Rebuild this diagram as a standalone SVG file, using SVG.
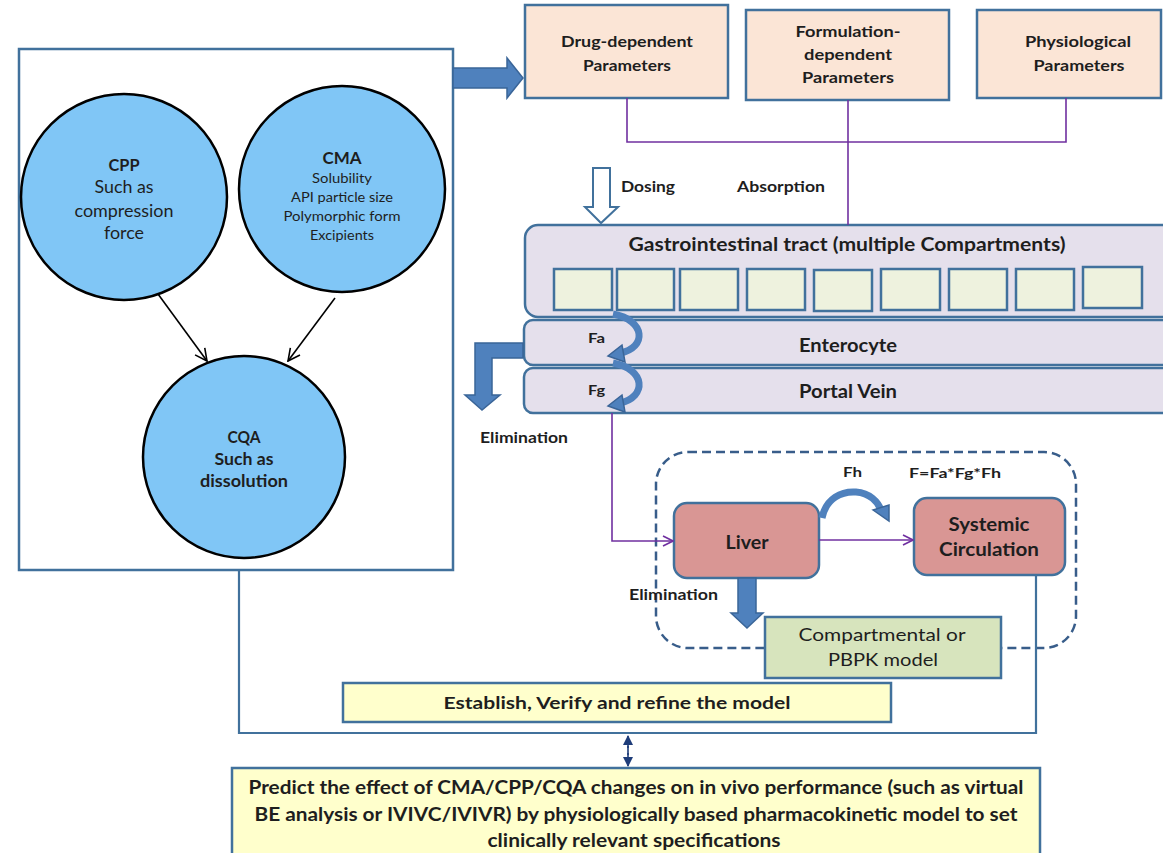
<svg xmlns="http://www.w3.org/2000/svg" width="1163" height="853" viewBox="0 0 1163 853">
<style>
text{font-family:Lato,"Liberation Sans",sans-serif;fill:#1e1e1e;text-anchor:middle}
.b{font-weight:bold}
.l{text-anchor:start}
.circ{fill:#80c6f6;stroke:#000;stroke-width:2.5}
.peach{fill:#fbe5d6;stroke:#41719c;stroke-width:2.5}
.lav{fill:#e5e0ec;stroke:#41719c;stroke-width:2.5}
.cell{fill:#eef2de;stroke:#41719c;stroke-width:2.5}
.red{fill:#d99694;stroke:#41719c;stroke-width:2.5}
.grn{fill:#d7e4bd;stroke:#41719c;stroke-width:2.5}
.yel{fill:#ffffcc;stroke:#41719c;stroke-width:2.5}
.frame{fill:none;stroke:#41719c;stroke-width:2.5}
.pur{fill:none;stroke:#7030a0;stroke-width:1.6}
.blk{fill:none;stroke:#000;stroke-width:1.6}
.nav{fill:none;stroke:#41719c;stroke-width:2.2}
.blue{fill:#4f81bd;stroke:#3a6598;stroke-width:1.5}
.bcurve{fill:none;stroke:#4f81bd;stroke-width:7}
</style>
<defs>
<marker id="mp" viewBox="0 0 12 12" refX="11" refY="6" markerWidth="12" markerHeight="12" markerUnits="userSpaceOnUse" orient="auto"><path d="M1,1 L11,6 L1,11" fill="none" stroke="#7030a0" stroke-width="1.6"/></marker>
<marker id="mb" viewBox="0 0 14 14" refX="13" refY="7" markerWidth="14" markerHeight="14" markerUnits="userSpaceOnUse" orient="auto"><path d="M1,1 L13,7 L1,13" fill="none" stroke="#000" stroke-width="1.6"/></marker>
<marker id="mn" viewBox="0 0 10 10" refX="9" refY="5" markerWidth="10" markerHeight="10" markerUnits="userSpaceOnUse" orient="auto"><path d="M0,0 L10,5 L0,10 Z" fill="#1f3d7a"/></marker>
</defs>
<rect width="1163" height="853" fill="#ffffff"/>

<g id="left-frame"><rect class="frame" x="19" y="49" width="434" height="521"/></g>
<g id="cpp"><circle class="circ" cx="124" cy="197" r="103"/>
<text class="b" x="124" y="171" font-size="17" textLength="31" lengthAdjust="spacingAndGlyphs">CPP</text>
<text x="124" y="193" font-size="17" textLength="59" lengthAdjust="spacingAndGlyphs">Such as</text>
<text x="124" y="217" font-size="17" textLength="99" lengthAdjust="spacingAndGlyphs">compression</text>
<text x="124" y="239" font-size="17" textLength="40" lengthAdjust="spacingAndGlyphs">force</text></g>
<g id="cma"><circle class="circ" cx="342" cy="189" r="103"/>
<text class="b" x="342" y="164" font-size="17" textLength="39" lengthAdjust="spacingAndGlyphs">CMA</text>
<text x="342" y="183" font-size="14" textLength="60" lengthAdjust="spacingAndGlyphs">Solubility</text>
<text x="342" y="202" font-size="14" textLength="102" lengthAdjust="spacingAndGlyphs">API particle size</text>
<text x="342" y="221" font-size="14" textLength="117" lengthAdjust="spacingAndGlyphs">Polymorphic form</text>
<text x="342" y="240" font-size="14" textLength="64" lengthAdjust="spacingAndGlyphs">Excipients</text></g>
<g id="cqa"><circle class="circ" cx="244" cy="457" r="101"/>
<text class="b" x="244" y="443" font-size="17" textLength="33" lengthAdjust="spacingAndGlyphs">CQA</text>
<text class="b" x="244" y="465" font-size="17" textLength="59" lengthAdjust="spacingAndGlyphs">Such as</text>
<text class="b" x="244" y="487" font-size="17" textLength="88" lengthAdjust="spacingAndGlyphs">dissolution</text></g>

<g id="drug"><rect class="peach" x="525" y="5" width="203" height="93"/>
<text class="b" x="627" y="47" font-size="15" textLength="132" lengthAdjust="spacingAndGlyphs">Drug-dependent</text>
<text class="b" x="627" y="71" font-size="15" textLength="88" lengthAdjust="spacingAndGlyphs">Parameters</text></g>
<g id="formulation"><rect class="peach" x="746" y="10" width="203" height="90"/>
<text class="b" x="848" y="37" font-size="15" textLength="105" lengthAdjust="spacingAndGlyphs">Formulation-</text>
<text class="b" x="848" y="60" font-size="15" textLength="88" lengthAdjust="spacingAndGlyphs">dependent</text>
<text class="b" x="848" y="83" font-size="15" textLength="92" lengthAdjust="spacingAndGlyphs">Parameters</text></g>
<g id="physio"><rect class="peach" x="977" y="10" width="184" height="88"/>
<text class="b" x="1078" y="47" font-size="15" textLength="106" lengthAdjust="spacingAndGlyphs">Physiological</text>
<text class="b" x="1079" y="71" font-size="15" textLength="91" lengthAdjust="spacingAndGlyphs">Parameters</text></g>

<g id="gi"><rect class="lav" x="525" y="225" width="650" height="92" rx="13"/>
<text class="b" x="847" y="251" font-size="18" textLength="437" lengthAdjust="spacingAndGlyphs">Gastrointestinal tract (multiple Compartments)</text>
<rect class="cell" x="554" y="269" width="58" height="41"/>
<rect class="cell" x="617" y="269" width="57" height="41"/>
<rect class="cell" x="680" y="269" width="58" height="41"/>
<rect class="cell" x="747" y="269" width="58" height="41"/>
<rect class="cell" x="814" y="270" width="58" height="41"/>
<rect class="cell" x="881" y="269" width="59" height="41"/>
<rect class="cell" x="949" y="269" width="58" height="41"/>
<rect class="cell" x="1016" y="269" width="58" height="41"/>
<rect class="cell" x="1083" y="267" width="59" height="41"/></g>
<g id="enterocyte"><rect class="lav" x="524" y="320" width="650" height="45" rx="9"/>
<text class="b" x="848" y="352" font-size="18" textLength="98" lengthAdjust="spacingAndGlyphs">Enterocyte</text></g>
<g id="portal"><rect class="lav" x="524" y="368" width="650" height="45" rx="9"/>
<text class="b" x="848" y="398" font-size="18" textLength="98" lengthAdjust="spacingAndGlyphs">Portal Vein</text></g>

<g id="model-region"><rect x="656" y="452" width="420" height="196" rx="32" fill="none" stroke="#385d8a" stroke-width="2.5" stroke-dasharray="9 5"/></g>
<g id="liver"><rect class="red" x="674" y="503" width="145" height="75" rx="13"/>
<text class="b" x="747" y="549" font-size="18" textLength="43" lengthAdjust="spacingAndGlyphs">Liver</text></g>
<g id="systemic"><rect class="red" x="914" y="498" width="151" height="77" rx="13"/>
<text class="b" x="989" y="531" font-size="18" textLength="81" lengthAdjust="spacingAndGlyphs">Systemic</text>
<text class="b" x="989" y="556" font-size="18" textLength="100" lengthAdjust="spacingAndGlyphs">Circulation</text></g>
<g id="pbpk"><rect class="grn" x="765" y="617" width="236" height="61"/>
<text x="882" y="641" font-size="18" textLength="167" lengthAdjust="spacingAndGlyphs">Compartmental or</text>
<text x="883" y="666" font-size="18" textLength="110" lengthAdjust="spacingAndGlyphs">PBPK model</text></g>
<g id="establish"><rect class="yel" x="343" y="683" width="548" height="39"/>
<text class="b" x="617" y="709" font-size="17" textLength="347" lengthAdjust="spacingAndGlyphs">Establish, Verify and refine the model</text></g>
<g id="predict"><rect class="yel" x="232" y="768" width="808" height="95"/>
<text class="b" x="636" y="794" font-size="18" textLength="775" lengthAdjust="spacingAndGlyphs">Predict the effect of CMA/CPP/CQA changes on in vivo performance (such as virtual</text>
<text class="b" x="636" y="821" font-size="18" textLength="763" lengthAdjust="spacingAndGlyphs">BE analysis or IVIVC/IVIVR) by physiologically based pharmacokinetic model to set</text>
<text class="b" x="634" y="847" font-size="18" textLength="293" lengthAdjust="spacingAndGlyphs">clinically relevant specifications</text></g>

<g id="labels">
<text class="b l" x="621" y="192" font-size="15" textLength="54" lengthAdjust="spacingAndGlyphs">Dosing</text>
<text class="b l" x="737" y="192" font-size="15" textLength="88" lengthAdjust="spacingAndGlyphs">Absorption</text>
<text class="b l" x="480" y="443" font-size="15" textLength="88" lengthAdjust="spacingAndGlyphs">Elimination</text>
<text class="b l" x="629" y="600" font-size="15" textLength="89" lengthAdjust="spacingAndGlyphs">Elimination</text>
<text class="b l" x="588" y="343" font-size="13" textLength="17" lengthAdjust="spacingAndGlyphs">Fa</text>
<text class="b l" x="588" y="395" font-size="13" textLength="17" lengthAdjust="spacingAndGlyphs">Fg</text>
<text class="b l" x="843" y="477" font-size="14" textLength="19" lengthAdjust="spacingAndGlyphs">Fh</text>
<text class="b l" x="909" y="478" font-size="14" textLength="92" lengthAdjust="spacingAndGlyphs">F=Fa*Fg*Fh</text>
</g>

<g id="connectors">
<polygon class="blue" points="453,68 507,68 507,58 523,78 507,98 507,88 453,88"/>
<path class="blk" d="M158,294 L207,361" marker-end="url(#mb)"/>
<path class="blk" d="M335,298 L288,361" marker-end="url(#mb)"/>
<path class="pur" d="M627,98 V142 H1066 V98"/>
<path class="pur" d="M848,100 V225"/>
<polygon points="593,168 610,168 610,207 618,207 601,223 585,207 593,207" fill="#fff" stroke="#41719c" stroke-width="2"/>
<path class="bcurve" d="M613,314 C646,320 647,348 620,353"/>
<polygon class="blue" points="622,345 608,356 625,362"/>
<path class="bcurve" d="M613,363 C646,369 647,397 620,403"/>
<polygon class="blue" points="622,395 608,406 625,412"/>
<polygon class="blue" points="523,343 475,343 475,395 465,395 482,410 500,395 492,395 492,358 523,358"/>
<path class="pur" d="M612,413 V541 H673" marker-end="url(#mp)"/>
<path class="pur" d="M819,540 H913" marker-end="url(#mp)"/>
<path class="bcurve" d="M822,518 C826,498 842,491 856,492 C870,493 878,502 881,510"/>
<polygon class="blue" points="873,510 889,521 889,505"/>
<polygon class="blue" points="738,578 756,578 756,613 763,613 747,628 731,613 738,613"/>
<path class="nav" d="M239,570 V733 H1036 V575"/>
<path d="M628,746 V755" stroke="#1f3d7a" stroke-width="1.6" fill="none"/>
<path d="M628,748 V736" stroke="#1f3d7a" stroke-width="1.6" fill="none" marker-end="url(#mn)"/>
<path d="M628,753 V766" stroke="#1f3d7a" stroke-width="1.6" fill="none" marker-end="url(#mn)"/>
</g>
</svg>
